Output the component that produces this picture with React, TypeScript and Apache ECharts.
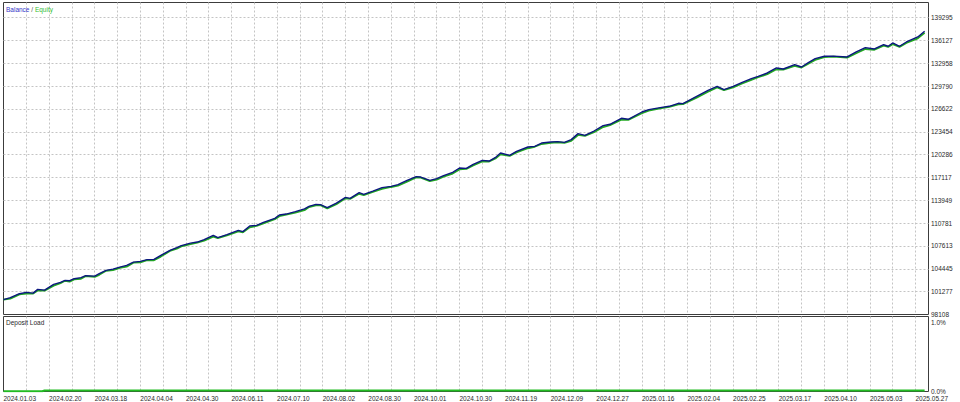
import React, { useEffect, useRef } from "react";
import * as echarts from "echarts";

// Deal number of each sampled point on the tester graph
const dealIndex = [
  0, 3, 7, 10, 13, 15, 18, 22, 25, 27,
  29, 31, 34, 36, 40, 42, 45, 48, 51, 54,
  57, 60, 63, 66, 69, 73, 76, 78, 82, 85,
  88, 92, 94, 98, 103, 105, 108, 111, 114, 119,
  121, 124, 128, 132, 134, 137, 139, 142, 146, 150,
  152, 156, 158, 162, 166, 170, 173, 177, 181, 183,
  187, 190, 193, 197, 200, 203, 206, 210, 213, 216,
  218, 222, 225, 230, 233, 236, 240, 243, 246, 249,
  252, 255, 259, 263, 266, 271, 274, 280, 283, 288,
  292, 296, 298, 304, 309, 313, 316, 320, 324, 328,
  331, 335, 339, 342, 347, 350, 353, 356, 360, 364,
  370, 374, 378, 382, 386, 388, 390, 393, 396, 401, 404,
];

const balance = [
  100162, 100439, 100994, 101175, 101078, 101591, 101494, 102285, 102563, 102840,
  102798, 103076, 103215, 103492, 103437, 103770, 104228, 104408, 104686, 104922,
  105380, 105477, 105713, 105754, 106309, 107003, 107378, 107655, 108016, 108155,
  108488, 109085, 108765, 109182, 109779, 109598, 110375, 110472, 110889, 111444,
  111902, 112040, 112374, 112762, 113109, 113387, 113345, 112929, 113567, 114358,
  114219, 115010, 114774, 115232, 115704, 115884, 116120, 116717, 117231, 117175,
  116717, 116953, 117369, 117827, 118424, 118380, 118937, 119492, 119395, 119950,
  120505, 120186, 120741, 121338, 121435, 121893, 122032, 122087, 121990, 122365,
  123198, 122962, 123558, 124308, 124488, 125321, 125182, 126195, 126528, 126806,
  126986, 127402, 127361, 128374, 129206, 129761, 129303, 129761, 130316, 130830,
  131149, 131607, 132301, 132162, 132773, 132440, 133050, 133605, 133924, 133950,
  133827, 134521, 135132, 134937, 135548, 135312, 135770, 135312, 135909, 136603, 137394,
];

const equity = [
  100162, 100319, 100904, 101015, 101018, 101451, 101414, 102115, 102453, 102780,
  102668, 102986, 103065, 103422, 103327, 103610, 104168, 104268, 104586, 104742,
  105290, 105327, 105653, 105634, 106139, 106923, 107238, 107555, 107856, 108085,
  108358, 108905, 108705, 109072, 109629, 109508, 110205, 110392, 110749, 111324,
  111742, 111970, 112244, 112582, 113019, 113237, 113285, 112819, 113397, 114218,
  114139, 114850, 114674, 115102, 115534, 115794, 115970, 116537, 117111, 117105,
  116617, 116803, 117239, 117657, 118234, 118300, 118797, 119332, 119325, 119800,
  120325, 120096, 120591, 121168, 121375, 121753, 121922, 121997, 121920, 122205,
  123008, 122882, 123398, 124108, 124368, 125141, 125092, 126025, 126398, 126696,
  126896, 127252, 127291, 128184, 128996, 129601, 129223, 129621, 130146, 130640,
  131019, 131447, 132121, 132072, 132603, 132360, 132900, 133415, 133814, 133890,
  133737, 134351, 134932, 134827, 135398, 135212, 135610, 135232, 135769, 136413, 137184,
];

// Deposit load (%)
const loadDeal = [0, 17, 18, 404];
const loadPct = [0.004, 0.004, 0.015, 0.015];

// Axis ticks and labels
const balanceLabels = [
  98108, 101277, 104445, 107613, 110781, 113949, 117117,
  120286, 123454, 126622, 129790, 132958, 136127, 139295,
];
const balanceGrid = [
  101277, 104445, 107613, 110781, 113949, 117117,
  120286, 123454, 126622, 129790, 132958, 136127, 139295,
];
const loadTicks = [0, 1];
const gridDeals = [
  10, 20, 30, 40, 50, 60, 70, 80, 90, 100, 110, 120, 130, 140, 150, 160, 170, 180, 190, 200,
  210, 220, 230, 240, 250, 260, 270, 280, 290, 300, 310, 320, 330, 340, 350, 360, 370, 380, 390, 400,
];
const labelDeals = [0, 20, 40, 60, 80, 100, 120, 140, 160, 180, 200, 220, 240, 260, 280, 300, 320, 340, 360, 380, 400];
const dateLabels = [
  "2024.01.03", "2024.02.20", "2024.03.18", "2024.04.04", "2024.04.30", "2024.06.11", "2024.07.10",
  "2024.08.02", "2024.08.30", "2024.10.01", "2024.10.30", "2024.11.19", "2024.12.09", "2024.12.27",
  "2025.01.16", "2025.02.04", "2025.02.25", "2025.03.17", "2025.04.10", "2025.05.03", "2025.05.27",
];

const FONT = '"Liberation Sans", Arial, sans-serif';
const TEXT = "#2a2a2a";
const GRIDLINE = { show: true, lineStyle: { color: "#c4c4c4", type: [2, 2] as any, width: 1 } };

export default function App() {
  const ref = useRef<HTMLDivElement>(null);

  useEffect(() => {
    document.body.style.margin = "0";
    const chart = echarts.init(ref.current!, null, { renderer: "svg" });
    const xMax = 405.7;
    const option: any = {
      animation: false,
      backgroundColor: "#ffffff",
      textStyle: { fontFamily: FONT },
      title: [
        {
          left: 6,
          top: 6,
          padding: 0,
          text: "{b|Balance}{s| / }{e|Equity}",
          textStyle: {
            fontSize: 6.5,
            fontWeight: "normal",
            fontFamily: FONT,
            rich: {
              b: { color: "#3535c8", fontSize: 6.5, fontFamily: FONT },
              s: { color: "#555555", fontSize: 6.5, fontFamily: FONT },
              e: { color: "#35c035", fontSize: 6.5, fontFamily: FONT },
            },
          },
        },
        {
          left: 6,
          top: 319,
          padding: 0,
          text: "Deposit Load",
          textStyle: { fontSize: 6.5, fontWeight: "normal", color: TEXT, fontFamily: FONT },
        },
      ],
      grid: [
        {
          left: 3.5, top: 2.5, width: 925, height: 312,
          show: true, borderColor: "#3c3c3c", borderWidth: 1, backgroundColor: "#ffffff",
          outerBoundsMode: "none",
        },
        {
          left: 3.5, top: 316.5, width: 925, height: 75,
          show: true, borderColor: "#3c3c3c", borderWidth: 1, backgroundColor: "#ffffff",
          outerBoundsMode: "none",
        },
      ],
      xAxis: [
        {
          type: "value", gridIndex: 0, min: 0, max: xMax,
          axisLine: { show: false },
          axisTick: { show: false, customValues: gridDeals },
          axisLabel: { show: false },
          splitLine: GRIDLINE,
        },
        {
          type: "value", gridIndex: 1, min: 0, max: xMax,
          axisLine: { show: false },
          axisTick: { show: false, customValues: gridDeals },
          axisLabel: {
            show: true,
            customValues: labelDeals,
            align: "left",
            margin: 3,
            fontSize: 6.5,
            color: TEXT,
            fontFamily: FONT,
            formatter: (v: number) => dateLabels[labelDeals.indexOf(Math.round(v))] ?? "",
          },
          splitLine: GRIDLINE,
        },
      ],
      yAxis: [
        {
          type: "value", gridIndex: 0, position: "right",
          min: 98108, max: 141384,
          axisLine: { show: false },
          axisTick: { show: false, customValues: balanceGrid },
          axisLabel: {
            customValues: balanceLabels,
            margin: 2.5,
            fontSize: 6.5,
            color: TEXT,
            fontFamily: FONT,
            formatter: (v: number) => String(Math.round(v)),
          },
          splitLine: GRIDLINE,
        },
        {
          type: "value", gridIndex: 1, position: "right",
          min: 0, max: 1.08,
          axisLine: { show: false },
          axisTick: { show: false, customValues: loadTicks },
          axisLabel: {
            customValues: loadTicks,
            margin: 2.5,
            fontSize: 6.5,
            color: TEXT,
            fontFamily: FONT,
            formatter: (v: number) => v.toFixed(1) + "%",
          },
          splitLine: { show: false },
        },
      ],
      series: [
        {
          name: "Equity",
          type: "line",
          xAxisIndex: 0, yAxisIndex: 0,
          showSymbol: false, silent: true,
          lineStyle: { color: "#22a822", width: 1.8 },
          data: dealIndex.map((d, i) => [d, equity[i]]),
        },
        {
          name: "Balance",
          type: "line",
          xAxisIndex: 0, yAxisIndex: 0,
          showSymbol: false, silent: true,
          lineStyle: { color: "#0c1680", width: 1.4 },
          data: dealIndex.map((d, i) => [d, balance[i]]),
        },
        {
          name: "Deposit Load",
          type: "line",
          xAxisIndex: 1, yAxisIndex: 1,
          showSymbol: false, silent: true,
          lineStyle: { color: "#22bb22", width: 2 },
          data: loadDeal.map((d, i) => [d, loadPct[i]]),
        },
      ],
    };
    chart.setOption(option);
    return () => chart.dispose();
  }, []);

  return (
    <div
      ref={ref}
      style={{ position: "absolute", left: 0, top: 0, width: 960, height: 402, background: "#fff" }}
    />
  );
}
